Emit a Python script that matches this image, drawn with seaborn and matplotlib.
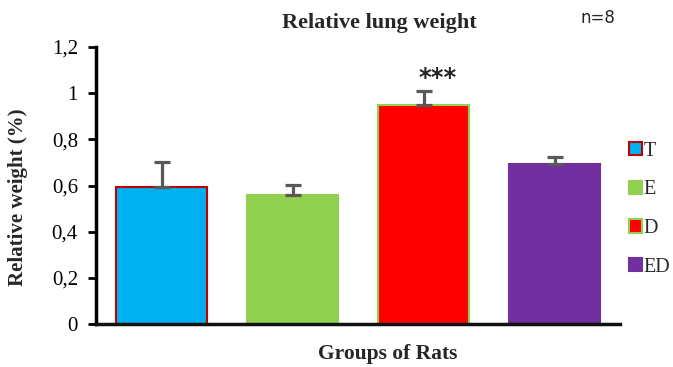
import matplotlib
matplotlib.use("Agg")
import matplotlib.pyplot as plt
import seaborn as sns
import pandas as pd
import numpy as np
from matplotlib.patches import Patch
from matplotlib.ticker import FuncFormatter

groups = ["T", "E", "D", "ED"]
values = [0.595, 0.558, 0.949, 0.692]
errors = [0.108, 0.042, 0.060, 0.032]
fill_colors = ["#00B0F0", "#92D050", "#FF0000", "#7030A0"]
edge_colors = ["#C00000", "#92D050", "#92D050", "#7030A0"]
yticks = [0, 0.2, 0.4, 0.6, 0.8, 1.0, 1.2]

sns.set_style("white")
plt.rcParams['font.family'] = ['Liberation Serif', 'DejaVu Serif']

df = pd.DataFrame({"group": groups, "value": values})

fig = plt.figure(figsize=(6.73, 3.67), dpi=100)
ax = fig.add_axes([96/673, 43/367, 524/673, 277/367])

sns.barplot(data=df, x="group", y="value", hue="group", palette=fill_colors,
            width=0.69, ax=ax, legend=False, errorbar=None, saturation=1)

for patch, ec in zip(ax.patches, edge_colors):
    patch.set_edgecolor(ec)
    patch.set_linewidth(1.5)

xpos = np.arange(len(groups))
ax.errorbar(xpos, values, yerr=[np.zeros(len(errors)), errors], fmt="none",
            ecolor="#595959", elinewidth=2.3, capsize=5.8, capthick=2.3, zorder=3)

ax.text(xpos[2] + 0.11, values[2] + errors[2] + 0.055, "***", ha="center", va="center",
        fontsize=17.5, family="DejaVu Sans", fontweight="bold", color="#222222")

ax.set_xlim(-0.5, 3.5)
ax.set_ylim(0, 1.2)
ax.set_yticks(yticks)
ax.yaxis.set_major_formatter(FuncFormatter(lambda v, p: ("%g" % round(v, 1)).replace(".", ",")))
ax.set_xticks([])
ax.tick_params(axis="y", which="both", left=True, direction="out", length=6, width=2,
               labelsize=15, pad=7, colors="black")
for s in ["top", "right"]:
    ax.spines[s].set_visible(False)
ax.spines["left"].set_linewidth(2.5)
ax.spines["bottom"].set_linewidth(2.5)
ax.spines["left"].set_color("black")
ax.spines["bottom"].set_color("#111111")

ax.set_xlabel("Groups of Rats", fontsize=15.5, fontweight="bold")
ax.set_ylabel("Relative weight (%)", fontsize=15, fontweight="bold")
ax.xaxis.set_label_coords(0.557, -0.072)
ax.yaxis.set_label_coords(-0.13, 0.457)

fig.text(379/673, 1 - 23/367, "Relative lung weight", ha="center", va="center",
         fontsize=16, fontweight="bold")
fig.text(598/673, 1 - 18/367, "n=8", ha="center", va="center", fontsize=12, family="DejaVu Sans")

handles = [Patch(facecolor=fc, edgecolor=ec, linewidth=1.5) for fc, ec in zip(fill_colors, edge_colors)]
leg = fig.legend(handles, groups, loc="center left", bbox_to_anchor=(0.907, 0.43),
                 frameon=False, fontsize=14.5, handlelength=0.65, handleheight=0.65,
                 labelspacing=0.98, handletextpad=0.08)

fig.savefig("out.png", dpi=100)
